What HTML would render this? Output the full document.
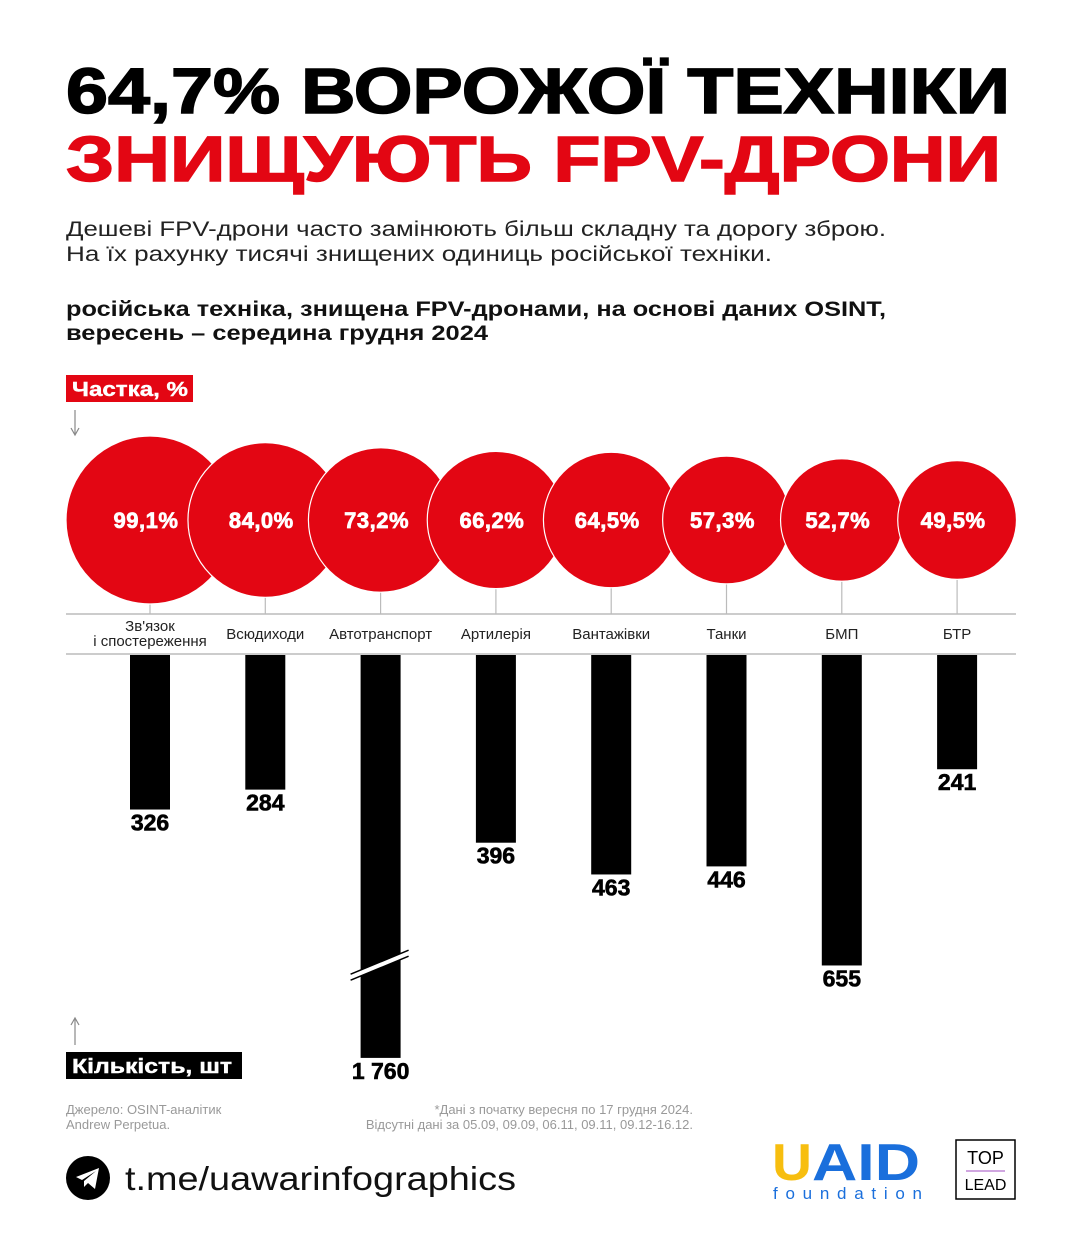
<!DOCTYPE html>
<html><head><meta charset="utf-8"><style>
html,body{margin:0;padding:0;background:#fff;}
svg{display:block;font-family:"Liberation Sans",sans-serif;}
</style></head><body>
<svg id="chart" width="1080" height="1245" viewBox="0 0 1080 1245" xmlns="http://www.w3.org/2000/svg">
<rect width="1080" height="1245" fill="#fff"/>
<text x="66" y="113" font-size="64" font-weight="900" fill="#000" textLength="944" lengthAdjust="spacingAndGlyphs" stroke="#000" stroke-width="1.5">64,7% ВОРОЖОЇ ТЕХНІКИ</text>
<text x="66" y="181" font-size="64" font-weight="900" fill="#e30613" textLength="935" lengthAdjust="spacingAndGlyphs" stroke="#e30613" stroke-width="1.5">ЗНИЩУЮТЬ FPV-ДРОНИ</text>
<text font-size="21" fill="#222"><tspan x="66" y="236" textLength="820" lengthAdjust="spacingAndGlyphs">Дешеві FPV-дрони часто замінюють більш складну та дорогу зброю.</tspan><tspan x="66" y="261" textLength="706" lengthAdjust="spacingAndGlyphs">На їх рахунку тисячі знищених одиниць російської техніки.</tspan></text>
<text font-size="21" font-weight="bold" fill="#111"><tspan x="66" y="316" textLength="820" lengthAdjust="spacingAndGlyphs">російська техніка, знищена FPV-дронами, на основі даних OSINT,</tspan><tspan x="66" y="340" textLength="422" lengthAdjust="spacingAndGlyphs">вересень – середина грудня 2024</tspan></text>
<rect x="66" y="375" width="127" height="27" fill="#e30613"/>
<text x="72" y="396" font-size="20" font-weight="bold" fill="#fff" stroke="#fff" stroke-width="0.4" textLength="116" lengthAdjust="spacingAndGlyphs">Частка, %</text>
<line x1="75" y1="410" x2="75" y2="434" stroke="#888" stroke-width="1.2"/>
<path d="M71 428 L75 435 L79 428" fill="none" stroke="#888" stroke-width="1.2"/>
<line x1="66" y1="614" x2="1016" y2="614" stroke="#bbb" stroke-width="1.5"/>
<line x1="66" y1="654" x2="1016" y2="654" stroke="#bbb" stroke-width="1.5"/>
<g id="circles"></g><g id="bars"></g>
<line x1="75" y1="1045" x2="75" y2="1019" stroke="#888" stroke-width="1.2"/>
<path d="M71 1025 L75 1018 L79 1025" fill="none" stroke="#888" stroke-width="1.2"/>
<rect x="66" y="1052" width="176" height="27" fill="#000"/>
<text x="72" y="1073" font-size="20" font-weight="bold" fill="#fff" stroke="#fff" stroke-width="0.4" textLength="160" lengthAdjust="spacingAndGlyphs">Кількість, шт</text>
<text font-size="13" fill="#999"><tspan x="66" y="1114">Джерело: OSINT-аналітик</tspan><tspan x="66" y="1129">Andrew Perpetua.</tspan></text>
<text font-size="13" fill="#999" text-anchor="end"><tspan x="693" y="1114">*Дані з початку вересня по 17 грудня 2024.</tspan><tspan x="693" y="1129">Відсутні дані за 05.09, 09.09, 06.11, 09.11, 09.12-16.12.</tspan></text>
<g>
<circle cx="88" cy="1178" r="22" fill="#000"/>
<path d="M76 1177 L99 1168 L95 1189 L88 1183 L84 1187 L84 1181 L96 1171 L82 1180 Z" fill="#fff"/>
<text x="125" y="1190" font-size="33" fill="#111" textLength="391" lengthAdjust="spacingAndGlyphs">t.me/uawarinfographics</text>
</g>
<g>
<text x="772" y="1180" font-size="52" font-weight="bold" fill="#f7be0f" textLength="40" lengthAdjust="spacingAndGlyphs">U</text>
<text x="812" y="1180" font-size="52" font-weight="bold" fill="#1a6fdc" textLength="108" lengthAdjust="spacingAndGlyphs">AID</text>
<text x="773" y="1199" font-size="17" fill="#1a6fdc" textLength="149" lengthAdjust="spacing">foundation</text>
</g>
<g>
<rect x="956" y="1140" width="59" height="59" fill="#fff" stroke="#000" stroke-width="1.5"/>
<text x="985.5" y="1164" font-size="18" text-anchor="middle" fill="#000">TOP</text>
<line x1="966" y1="1171" x2="1005" y2="1171" stroke="#a04cc0" stroke-width="1"/>
<text x="985.5" y="1190" font-size="16" text-anchor="middle" fill="#000">LEAD</text>
</g>
</svg>
<script>
const categories = ["Зв'язок|і спостереження","Всюдиходи","Автотранспорт","Артилерія","Вантажівки","Танки","БМП","БТР"];
const shares = [99.1,84.0,73.2,66.2,64.5,57.3,52.7,49.5];
const shareLabels = ["99,1%","84,0%","73,2%","66,2%","64,5%","57,3%","52,7%","49,5%"];
const counts = [326,284,1760,396,463,446,655,241];
const countLabels = ["326","284","1 760","396","463","446","655","241"];
const NS="http://www.w3.org/2000/svg";
function xPos(i){return 150+i*115.3;}
function rScale(v){return 84*Math.sqrt(v/99.1);}
const BAR_TOP=655, CAP=850;
function barLen(v){return Math.min(v,CAP)*0.474;}
function mk(tag,attrs,parent){const e=document.createElementNS(NS,tag);for(const k in attrs)e.setAttribute(k,attrs[k]);parent.appendChild(e);return e;}
const cg=document.getElementById('circles'), bg=document.getElementById('bars');
shares.forEach((v,i)=>{
  const x=xPos(i), cy=520, r=rScale(v);
  const tick=mk('line',{x1:x,y1:cy+r,x2:x,y2:614,stroke:'#bbb','stroke-width':1.2},cg);
  
  
  const c=mk('circle',{cx:x,cy:cy,r:r,fill:'#e30613',stroke:'#fff','stroke-width':1.2},cg);
  
  
  const t=mk('text',{x:x-4,y:cy+8,'font-size':22,'font-weight':'bold',fill:'#fff',stroke:'#fff','stroke-width':0.7,'letter-spacing':0.5,'text-anchor':'middle'},cg);
  t.textContent=shareLabels[i];
  
  
  const parts=categories[i].split('|');
  const lt=mk('text',{'font-size':15,fill:'#222','text-anchor':'middle'},cg);
  
  
  parts.forEach((p,j)=>{const ts=mk('tspan',{x:x,y:parts.length>1?631+j*15:639},lt);ts.textContent=p;});
});
counts.forEach((v,i)=>{
  const x=xPos(i), h=barLen(v);
  const b=mk('rect',{x:x-20,y:BAR_TOP,width:40,height:h,fill:'#000'},bg);
  
  
  const t=mk('text',{x:x,y:BAR_TOP+h+21,'font-size':23,'font-weight':'bold',fill:'#000','text-anchor':'middle',stroke:'#000','stroke-width':0.6},bg);
  t.textContent=countLabels[i];
  
  
  if(v>CAP){
    const yb=BAR_TOP+barLen(CAP)*0.77;
    const g=mk('g',{},bg);
    
    
    mk('line',{x1:x-30,y1:yb+12,x2:x+28,y2:yb-12,stroke:'#fff','stroke-width':5},g);
    mk('line',{x1:x-30,y1:yb+9,x2:x+28,y2:yb-15,stroke:'#000','stroke-width':1.5},g);
    mk('line',{x1:x-30,y1:yb+15,x2:x+28,y2:yb-9,stroke:'#000','stroke-width':1.5},g);
  }
});
</script>
</body></html>
